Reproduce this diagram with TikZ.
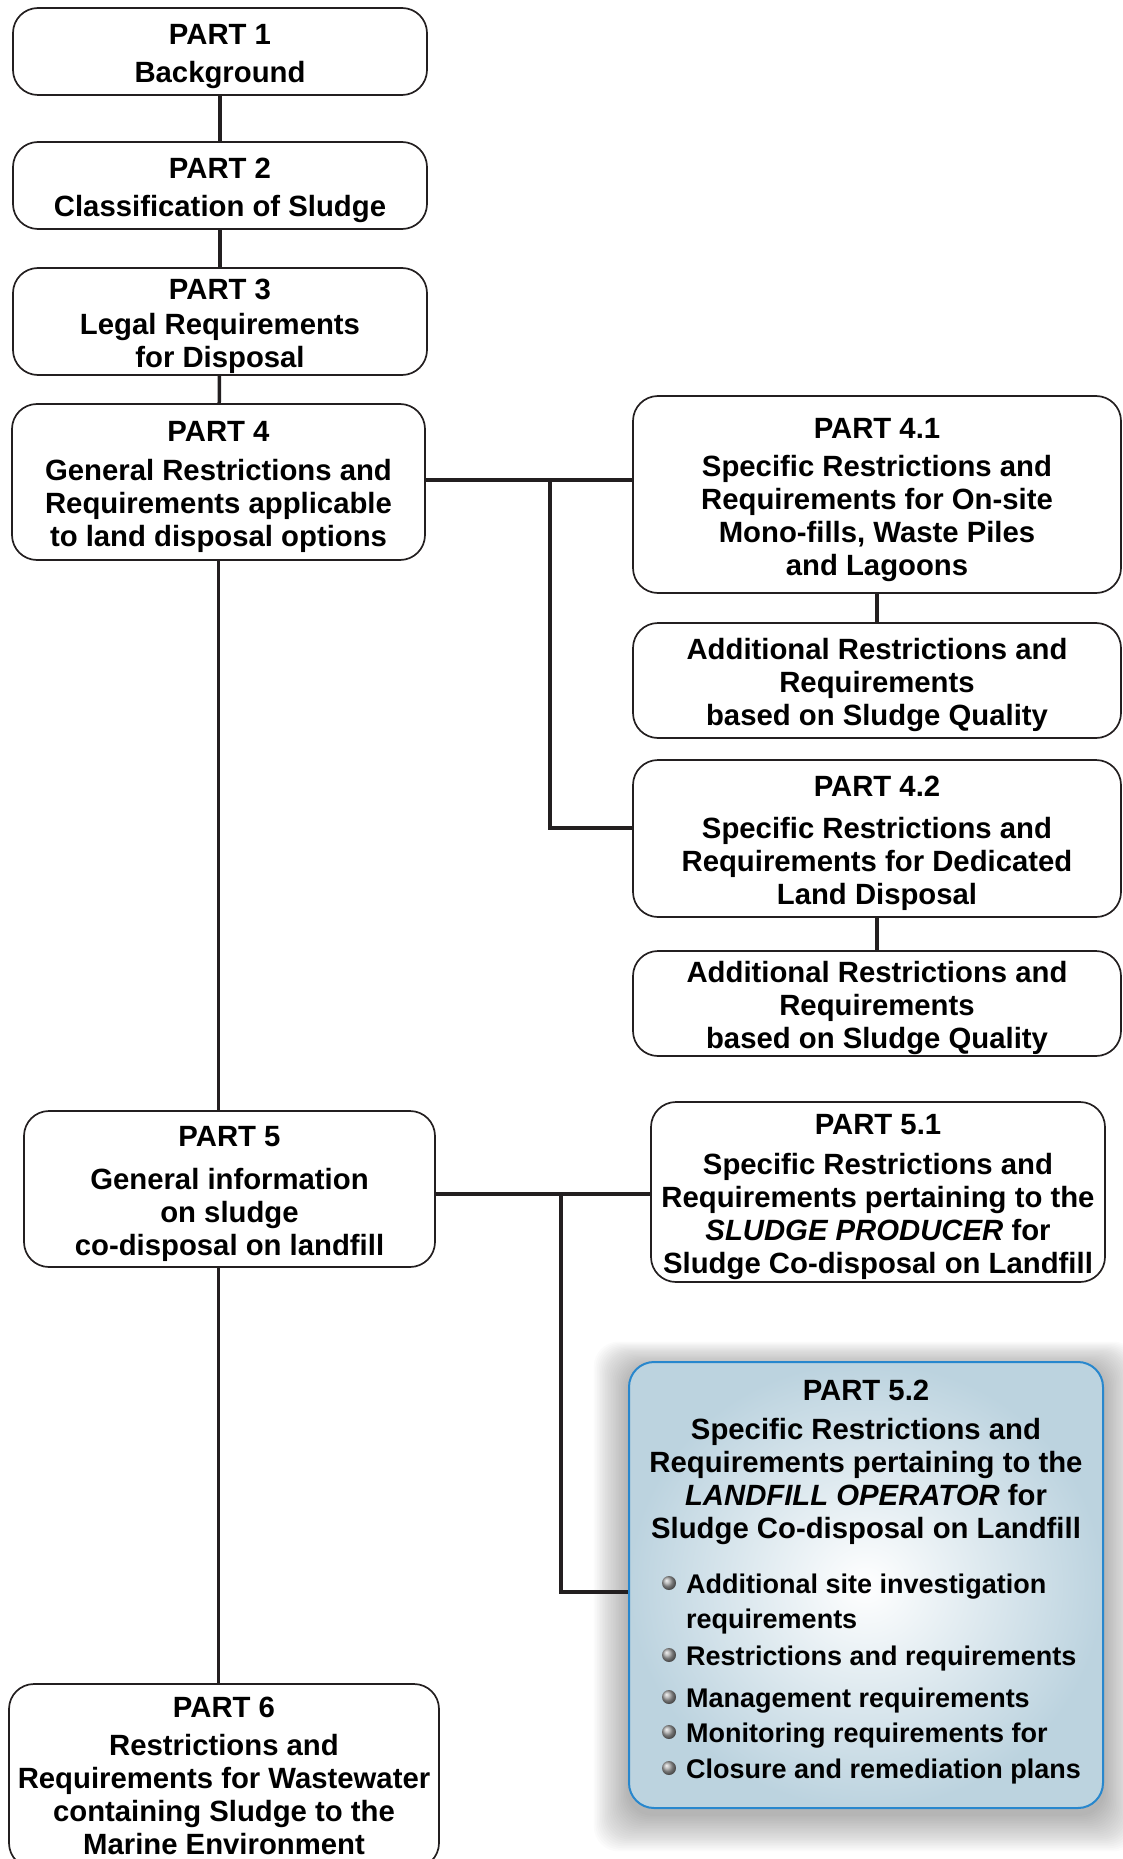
\documentclass[tikz,border=0pt]{standalone}
\usepackage{fontspec}
\setmainfont{Liberation Sans}
\usepackage{xcolor}
\usetikzlibrary{calc}
\definecolor{partline}{RGB}{35,31,32}
\definecolor{partblue}{RGB}{40,135,205}
\definecolor{partfill}{RGB}{188,211,223}
\tikzset{
  partbox/.style={draw=partline, line width=1.7pt, rounded corners=25pt, align=center, inner sep=0pt, font=\fontsize{29.3}{33}\selectfont\bfseries},
  parttext/.style={align=center, inner sep=0pt, font=\fontsize{29.3}{33}\selectfont\bfseries},
  itemtext/.style={inner sep=0pt, font=\fontsize{27}{33}\selectfont\bfseries},
  partlink/.style={draw=partline, line width=3.5pt},
}

\begin{document}
\begin{tikzpicture}[x=1pt, y=-1pt]
        \newcommand{\figsludgespinex}{220}
        \newcommand{\figsludgebranchax}{550}
        \newcommand{\figsludgebranchbx}{561}
        \newcommand{\figsludgebulletx}{669}
        \newcommand{\figsludgeitemx}{686}
        \newcommand{\figsludgestrut}{\rule{0pt}{31pt}}
        \useasboundingbox (0,0) rectangle (1123,1859);
        \clip (0,0) rectangle (1123,1859);
        \foreach \s in {1,...,22}
          \fill[black, opacity=0.014, rounded corners=25pt] (629-1.6*\s,1368-1.2*\s) rectangle (1103+1.6*\s,1814+1.7*\s);
        \node[partbox, minimum width=414pt, minimum height=87pt] (p1) at (\figsludgespinex,51.5) {\figsludgestrut PART 1\\[5pt]Background};
        \node[partbox, minimum width=414pt, minimum height=87pt] (p2) at (\figsludgespinex,185.5) {\figsludgestrut PART 2\\[5pt]Classification of Sludge};
        \node[partbox, minimum width=414pt, minimum height=107pt] (p3) at (\figsludgespinex,321.5) {\figsludgestrut PART 3\\[2pt]Legal Requirements\\for Disposal};
        \node[partbox, minimum width=413pt, minimum height=156pt] (p4) at (218.5,482) {\figsludgestrut PART 4\\[6pt]General Restrictions and\\Requirements applicable\\to land disposal options};
        \node[partbox, minimum width=488pt, minimum height=197pt] (p41) at (877,494.5) {\figsludgestrut PART 4.1\\[5pt]Specific Restrictions and\\Requirements for On-site\\Mono-fills, Waste Piles\\and Lagoons};
        \node[partbox, minimum width=488pt, minimum height=115pt] (a41) at (877,680.5) {\figsludgestrut Additional Restrictions and\\Requirements\\based on Sludge Quality};
        \node[partbox, minimum width=488pt, minimum height=157pt] (p42) at (877,838.5) {\figsludgestrut PART 4.2\\[9pt]Specific Restrictions and\\Requirements for Dedicated\\Land Disposal};
        \node[partbox, minimum width=488pt, minimum height=105pt] (a42) at (877,1003.5) {\figsludgestrut Additional Restrictions and\\Requirements\\based on Sludge Quality};
        \node[partbox, minimum width=411pt, minimum height=156pt] (p5) at (229.5,1189) {\figsludgestrut PART 5\\[10pt]General information\\on sludge\\co-disposal on landfill};
        \node[partbox, minimum width=454pt, minimum height=180pt] (p51) at (878,1192) {\figsludgestrut PART 5.1\\[7pt]Specific Restrictions and\\Requirements pertaining to the\\\textit{SLUDGE PRODUCER} for\\Sludge Co-disposal on Landfill};
        \node[partbox, draw=partblue, line width=2pt, inner color=white, outer color=partfill, minimum width=474pt, minimum height=446pt] (p52) at (866,1585) {};
        \node[parttext] (p52t) at (866,1462) {PART 5.2\\[6pt]Specific Restrictions and\\Requirements pertaining to the\\\textit{LANDFILL OPERATOR} for\\Sludge Co-disposal on Landfill};
        \node[partbox, minimum width=430pt, minimum height=184pt] (p6) at (224,1776) {PART 6\\[5pt]Restrictions and\\Requirements for Wastewater\\containing Sludge to the\\Marine Environment};
        \foreach \y/\t [count=\i] in {1583/Additional site investigation, 1618/requirements, 1655/Restrictions and requirements, 1697/Management requirements, 1732/Monitoring requirements for, 1768/Closure and remediation plans}
          \node[itemtext, anchor=base west] (i\i) at (\figsludgeitemx,\y+10) {\t};
        \foreach \y in {1583,1655,1697,1732,1768}
          \shade[ball color=gray!70] (\figsludgebulletx,\y) circle (7);
        \coordinate (b4top) at (\figsludgebranchax,480);
        \coordinate (b4bot) at (\figsludgebranchax,828);
        \coordinate (b5top) at (\figsludgebranchbx,1194);
        \coordinate (b5bot) at (\figsludgebranchbx,1592);
        \draw[partlink] (p1) -- (p2);
        \draw[partlink] (p2) -- (p3);
        \draw[partlink] (p3) -- (p4);
        \draw[partlink] (p4.south) -- (p4.south |- p5.north);
        \draw[partlink] (p5.south -| p4.south) -- (p4.south |- p6.north);
        \draw[partlink] (b4top -| p4.east) -- (b4top -| p41.west);
        \draw[partlink] (b4top) -- (b4bot) -- (b4bot -| p42.west);
        \draw[partlink] (p41) -- (a41);
        \draw[partlink] (p42) -- (a42);
        \draw[partlink] (b5top -| p5.east) -- (b5top -| p51.west);
        \draw[partlink] (b5top) -- (b5bot) -- (b5bot -| p52.west);
    \end{tikzpicture}
\end{document}
